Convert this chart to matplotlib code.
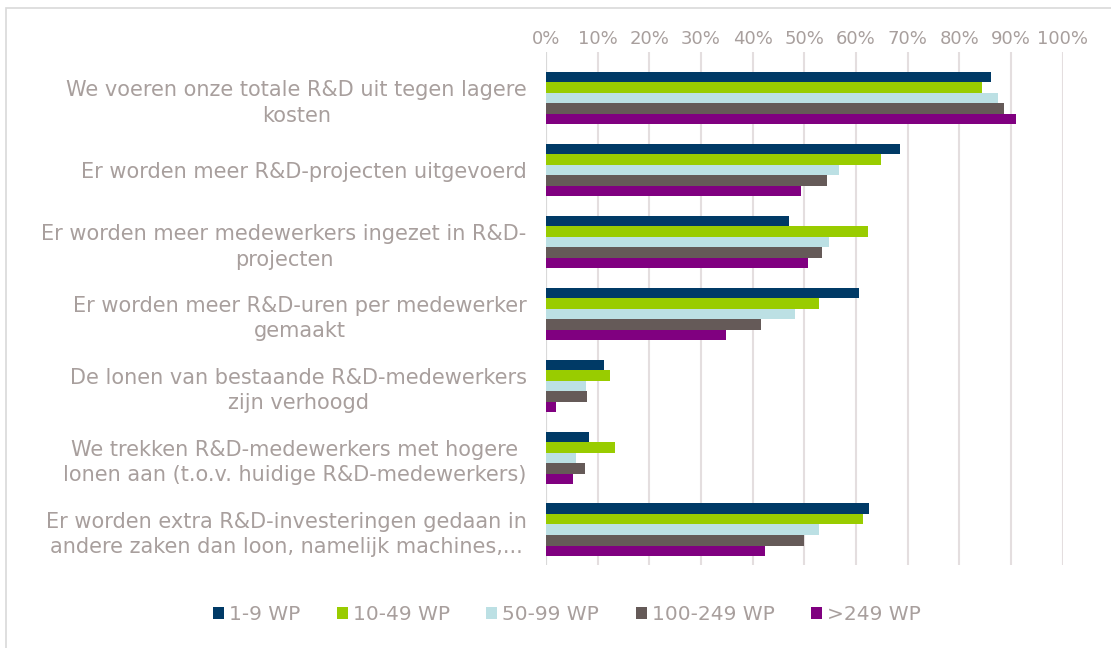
import matplotlib
matplotlib.use("Agg")
import matplotlib.pyplot as plt
from matplotlib.patches import Rectangle
import numpy as np

categories = [
    "We voeren onze totale R&D uit tegen lagere\nkosten",
    "Er worden meer R&D-projecten uitgevoerd",
    "Er worden meer medewerkers ingezet in R&D-\nprojecten",
    "Er worden meer R&D-uren per medewerker\ngemaakt",
    "De lonen van bestaande R&D-medewerkers\nzijn verhoogd",
    "We trekken R&D-medewerkers met hogere\nlonen aan (t.o.v. huidige R&D-medewerkers)",
    "Er worden extra R&D-investeringen gedaan in\nandere zaken dan loon, namelijk machines,...",
]
series_names = ["1-9 WP", "10-49 WP", "50-99 WP", "100-249 WP", ">249 WP"]
s_1_9 = [86.2, 68.5, 47.0, 60.6, 11.2, 8.3, 62.5]
s_10_49 = [84.4, 64.8, 62.3, 52.8, 12.4, 13.4, 61.3]
s_50_99 = [87.4, 56.8, 54.8, 48.2, 7.7, 5.9, 52.8]
s_100_249 = [88.7, 54.4, 53.4, 41.7, 7.9, 7.5, 49.9]
s_249 = [90.9, 49.4, 50.7, 34.8, 2.0, 5.2, 42.4]
tick_labels = ["0%", "10%", "20%", "30%", "40%", "50%", "60%", "70%", "80%", "90%", "100%"]

series = [s_1_9, s_10_49, s_50_99, s_100_249, s_249]
colors = ["#003A66", "#99CC00", "#BCE0E4", "#655A58", "#800080"]
text_color = "#A89F9D"
grid_color = "#E4DEDF"

plt.rcParams['font.family'] = ['DejaVu Sans']

fig = plt.figure(figsize=(11.11, 6.48), dpi=100)
ax = fig.add_axes([546 / 1111, 1 - 565 / 648, (1062.7 - 546) / 1111, (565 - 52) / 648])

# figure border
fig.patches.append(Rectangle((6 / 1111, -0.05), 1.2, 1 - 8 / 648 + 0.05, transform=fig.transFigure,
                             fill=False, edgecolor="#D9D9D9", linewidth=1.2))

n = len(series)
h = 0.146
y = np.arange(len(categories))
for i, (vals, c, name) in enumerate(zip(series, colors, series_names)):
    offs = (i - (n - 1) / 2) * h
    ax.barh(y + offs, vals, height=h, color=c, label=name, zorder=3)

ax.set_xlim(0, 100)
ax.set_ylim(6.49, -0.64)
ax.set_xticks(np.arange(0, 101, 10))
ax.set_xticklabels(tick_labels)
ax.xaxis.tick_top()
ax.tick_params(axis='x', length=0, pad=3, labelsize=13, colors=text_color)
ax.set_yticks(y)
ax.set_yticklabels(categories, multialignment='center')
ax.tick_params(axis='y', length=0, pad=14, labelsize=15, colors=text_color)
for lab in ax.get_yticklabels():
    lab.set_linespacing(1.35)

ax.grid(axis='x', color=grid_color, linewidth=1.5, zorder=0)
for sp in ax.spines.values():
    sp.set_visible(False)
ax.axvline(0, color="#D9D9D9", linewidth=1.5, zorder=2)

leg = ax.legend(loc='center', bbox_to_anchor=(0.5 * (207 + 927) / 1111, 1 - 615 / 648),
                bbox_transform=fig.transFigure, ncol=5, frameon=False,
                fontsize=14.5, handlelength=0.55, handleheight=0.55, handletextpad=0.25,
                columnspacing=1.8)
for t in leg.get_texts():
    t.set_color(text_color)

fig.savefig("out.png", dpi=100)
